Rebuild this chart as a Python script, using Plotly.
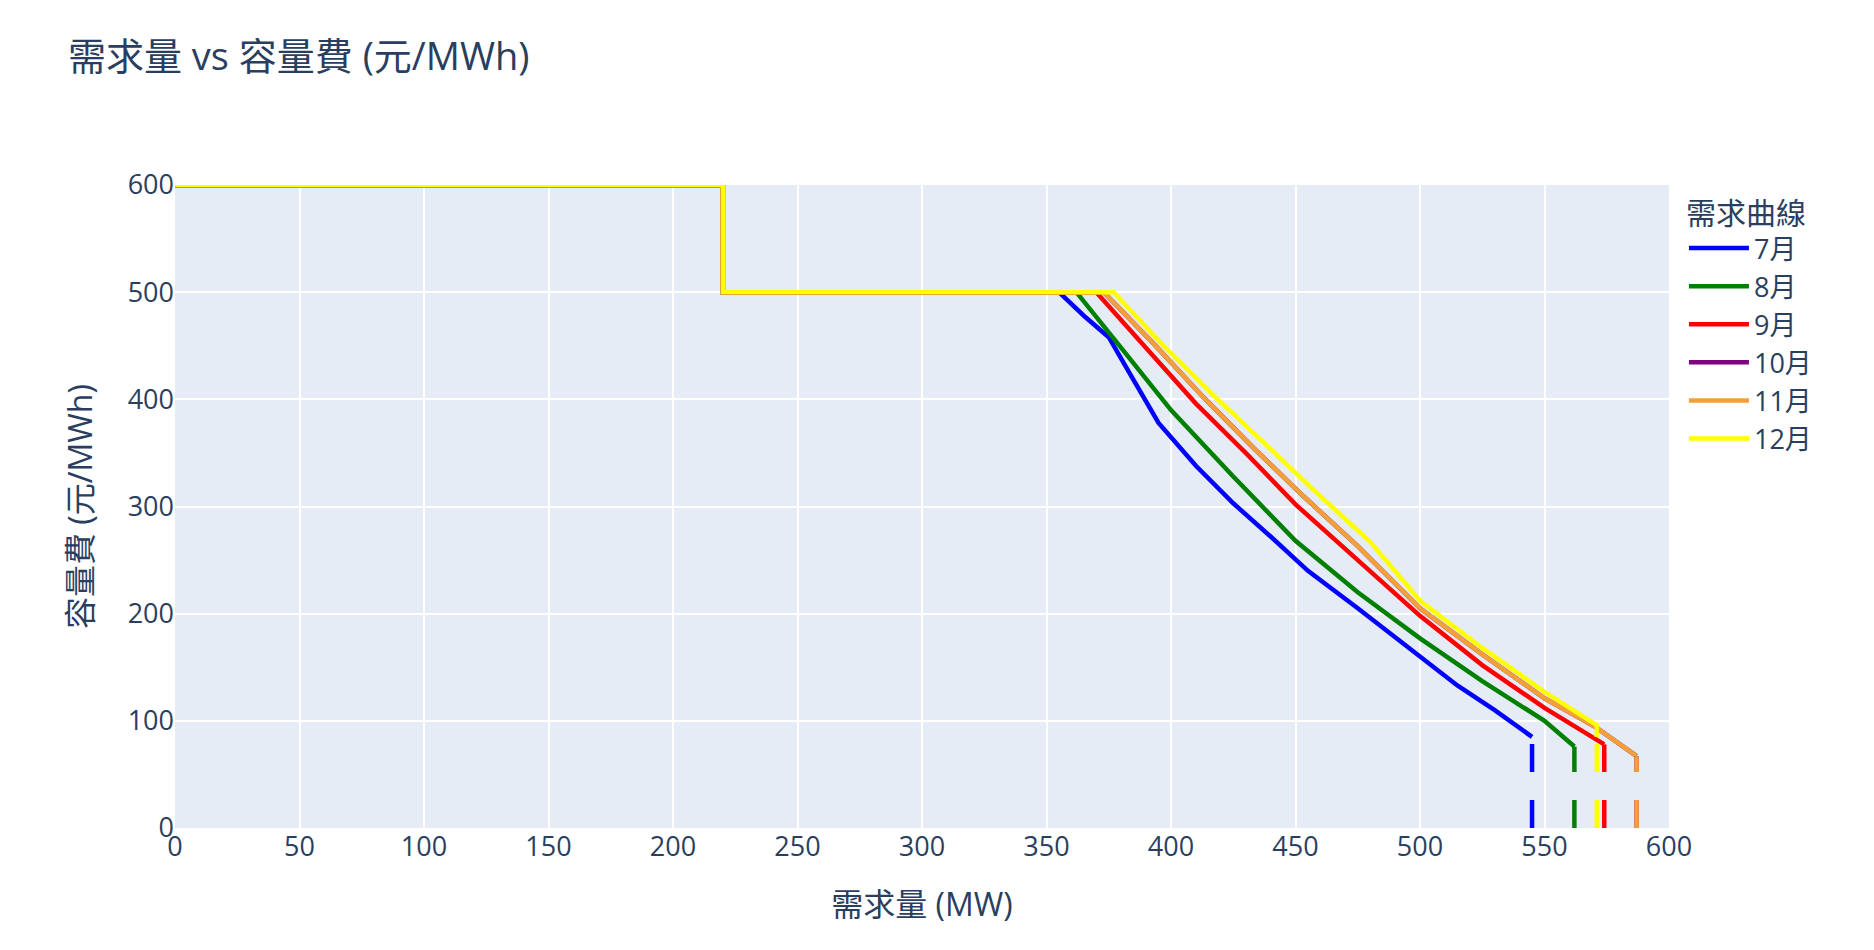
import plotly.graph_objects as go

months = ["7月", "8月", "9月", "10月", "11月", "12月"]
colors = ["blue", "green", "red", "purple", "#F4A03A", "yellow"]
head_x = [0, 220, 220]
head_y = [600, 600, 500]
x7 = [355, 365, 375, 385, 395, 410, 425, 440, 455, 475, 500, 515, 530, 545]
y7 = [500, 478, 458, 418, 378, 338, 303, 272, 240, 205, 160, 133, 110, 85]
x8 = [362, 380, 400, 425, 450, 475, 500, 525, 550, 562]
y8 = [500, 448, 390, 328, 268, 220, 177, 137, 100, 76]
x9 = [370, 390, 410, 430, 450, 475, 500, 525, 550, 574]
y9 = [500, 448, 396, 350, 302, 250, 198, 152, 112, 78]
x10 = [373, 393, 413, 433, 453, 475, 500, 525, 550, 570, 587]
y10 = [500, 452, 402, 355, 310, 263, 205, 162, 121, 95, 67]
x11 = [373, 393, 413, 433, 453, 475, 500, 525, 550, 570, 587]
y11 = [500, 452, 402, 355, 310, 263, 205, 162, 121, 95, 67]
x12 = [377, 397, 417, 437, 457, 480, 500, 525, 550, 571, 571]
y12 = [500, 450, 404, 360, 316, 267, 212, 168, 127, 96, 85]
series_x = [x7, x8, x9, x10, x11, x12]
series_y = [y7, y8, y9, y10, y11, y12]

fig = go.Figure()
for m, c, xs, ys in zip(months, colors, series_x, series_y):
    fig.add_trace(go.Scatter(x=head_x + xs, y=head_y + ys, mode="lines", name=m,
                             line=dict(color=c, width=4.5)))
for m, c, xs, ys in zip(months, colors, series_x, series_y):
    fig.add_trace(go.Scatter(x=[xs[-1], xs[-1]], y=[0, ys[-1]], mode="lines",
                             showlegend=False, line=dict(color=c, width=4.5, dash="28px,28px")))

fig.update_layout(
    width=1874, height=950,
    font=dict(family="Open Sans, Noto Sans CJK TC, sans-serif", size=27, color="#2a3f5f"),
    title=dict(text="需求量 vs 容量費 (元/MWh)", x=0.032, y=0.963, font=dict(size=38)),
    legend=dict(title=dict(text="需求曲線", font=dict(size=30)), x=1.01, y=1.0,
                font=dict(size=27), itemwidth=60),
    margin=dict(l=167, r=213, t=177, b=130),
    plot_bgcolor="#E5ECF6",
    xaxis=dict(title=dict(text="需求量 (MW)", standoff=30), range=[0, 600], dtick=50,
               gridcolor="white", gridwidth=2, zeroline=False),
    yaxis=dict(title=dict(text="容量費 (元/MWh)", standoff=25), range=[0, 600], dtick=100,
               gridcolor="white", gridwidth=2, zeroline=False),
)
fig.write_html("out.html")
